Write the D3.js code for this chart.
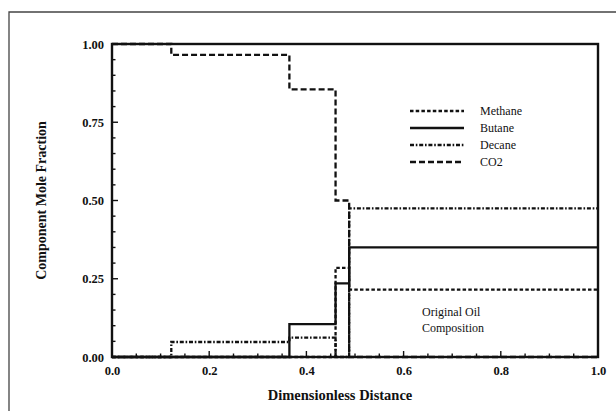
<!DOCTYPE html>
<html>
<head>
<meta charset="utf-8">
<script src="https://cdn.jsdelivr.net/npm/d3@7"></script>
<style>
  html, body { margin: 0; padding: 0; background: #fff; }
  svg { display: block; }
  text { font-family: "Liberation Serif", "DejaVu Serif", serif; fill: #111; }
</style>
</head>
<body>
<svg id="chart" width="616" height="411"></svg>
<script>
// Segment boundaries along the dimensionless distance
const boundaries = [0, 0.122, 0.365, 0.46, 0.488, 1.0];
// Mole fraction of each component on each segment
const methane = [0, 0, 0, 0.285, 0.215];
const butane  = [0, 0, 0.105, 0.235, 0.35];
const decane  = [0, 0.048, 0.062, 0, 0.475];
const co2     = [1.0, 0.965, 0.855, 0.50, 0];

const seriesNames = ["Methane", "Butane", "Decane", "CO2"];
const xTickLabels = ["0.0", "0.2", "0.4", "0.6", "0.8", "1.0"];
const yTickLabels = ["0.00", "0.25", "0.50", "0.75", "1.00"];

const dashes = {
  Methane: "3.5,2.2",
  Butane: null,
  Decane: "4,1.8,1.6,1.8",
  CO2: "6,3"
};
const values = { Methane: methane, Butane: butane, Decane: decane, CO2: co2 };

const W = 616, H = 411;
const margin = { top: 44, right: 18, bottom: 54, left: 112 };
const iw = W - margin.left - margin.right;
const ih = H - margin.top - margin.bottom;

const svg = d3.select("#chart");

// page frame
svg.append("path")
  .attr("d", `M9,${H} V12 H${W}`)
  .attr("fill", "none").attr("stroke", "#444").attr("stroke-width", 1.3);

const g = svg.append("g").attr("transform", `translate(${margin.left},${margin.top})`);

const x = d3.scaleLinear().domain([0, 1]).range([0, iw]);
const y = d3.scaleLinear().domain([0, 1]).range([ih, 0]);

// inward minor / major ticks
const minorX = d3.range(0, 1.0001, 0.05);
const minorY = d3.range(0, 1.0001, 0.05);
g.append("g").selectAll("line").data(minorX).join("line")
  .attr("x1", d => x(d)).attr("x2", d => x(d))
  .attr("y1", ih).attr("y2", d => ih - (Math.abs((d * 5) - Math.round(d * 5)) < 1e-6 ? 6 : 3.5))
  .attr("stroke", "#111").attr("stroke-width", 1.4);
g.append("g").selectAll("line").data(minorY).join("line")
  .attr("y1", d => y(d)).attr("y2", d => y(d))
  .attr("x1", 0).attr("x2", d => (Math.abs((d * 4) - Math.round(d * 4)) < 1e-6 ? 6 : 3.5))
  .attr("stroke", "#111").attr("stroke-width", 1.4);

// axes with labels
const xAxis = d3.axisBottom(x).tickValues(xTickLabels.map(Number))
  .tickFormat((d, i) => xTickLabels[i]).tickSize(0).tickPadding(9);
const yAxis = d3.axisLeft(y).tickValues(yTickLabels.map(Number))
  .tickFormat((d, i) => yTickLabels[i]).tickSize(0).tickPadding(8);

const gx = g.append("g").attr("transform", `translate(0,${ih})`).call(xAxis);
const gy = g.append("g").call(yAxis);
[gx, gy].forEach(a => {
  a.select(".domain").remove();
  a.selectAll("text")
    .style("font-family", "'Liberation Serif', serif")
    .style("font-size", "12.5px").style("font-weight", "bold").attr("fill", "#111");
});

// step lines
const line = d3.line().x(d => x(d[0])).y(d => y(d[1])).curve(d3.curveStepAfter);
seriesNames.forEach(name => {
  const v = values[name];
  const pts = v.map((val, i) => [boundaries[i], val]);
  pts.push([boundaries[boundaries.length - 1], v[v.length - 1]]);
  g.append("path")
    .datum(pts)
    .attr("d", line)
    .attr("fill", "none")
    .attr("stroke", "#111")
    .attr("stroke-width", 2.3)
    .attr("stroke-dasharray", dashes[name]);
});

// plot frame
g.append("rect").attr("x", 0).attr("y", 0).attr("width", iw).attr("height", ih)
  .attr("fill", "none").attr("stroke", "#111").attr("stroke-width", 2.4);

// legend
const legend = g.append("g").attr("transform", `translate(${410 - margin.left},${111 - margin.top})`);
seriesNames.forEach((name, i) => {
  const row = legend.append("g").attr("transform", `translate(0,${i * 17})`);
  row.append("line").attr("x1", 0).attr("x2", 54).attr("y1", 0).attr("y2", 0)
    .attr("stroke", "#111").attr("stroke-width", 2.4)
    .attr("stroke-dasharray", dashes[name]);
  row.append("text").attr("x", 70).attr("y", 4)
    .style("font-size", "12px").text(name);
});

// annotation
const note = g.append("text").attr("y", 316 - margin.top)
  .style("font-size", "12px");
note.append("tspan").attr("x", 422 - margin.left).text("Original Oil");
note.append("tspan").attr("x", 422 - margin.left).attr("dy", 16).text("Composition");

// axis titles
svg.append("text").attr("x", 340).attr("y", 400).attr("text-anchor", "middle")
  .style("font-size", "14.5px").style("font-weight", "bold").text("Dimensionless Distance");
svg.append("text").attr("transform", `translate(46,${margin.top + ih / 2}) rotate(-90)`)
  .attr("text-anchor", "middle")
  .style("font-size", "14px").style("font-weight", "bold").text("Component  Mole  Fraction");
</script>
</body>
</html>
